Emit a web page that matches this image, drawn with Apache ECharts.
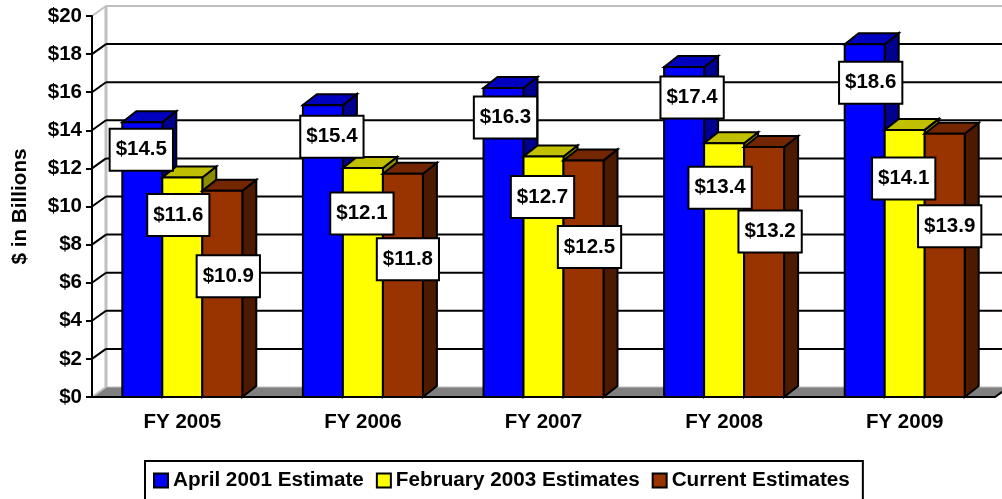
<!DOCTYPE html>
<html>
<head>
<meta charset="UTF-8"/>
<title>Estimates</title>
<style>
html,body{margin:0;padding:0;background:#fff;}
#chart{width:1002px;height:499px;}
</style>
<script src="https://cdn.jsdelivr.net/npm/echarts@6/dist/echarts.min.js"></script>
</head>
<body>
<div id="chart"></div>
<script>
var categories = ['FY 2005', 'FY 2006', 'FY 2007', 'FY 2008', 'FY 2009'];
var april2001 = [14.5, 15.4, 16.3, 17.4, 18.6];
var february2003 = [11.6, 12.1, 12.7, 13.4, 14.1];
var current = [10.9, 11.8, 12.5, 13.2, 13.9];
var yTicks = [0, 2, 4, 6, 8, 10, 12, 14, 16, 18, 20];

// the data labels were dragged by hand in the original, so each has its own nudge in px from the bar top
var labelShift = {
  april: [[-1, 29], [9, 33], [2, 31], [8, 32], [6, 40]],
  february: [[-4, 39], [-1, 47], [-1, 42], [-4, 46], [-1, 50]],
  current: [[6, 87], [5, 87], [6, 88], [6, 86], [5, 94]]
};

var FONT = '"Liberation Sans", Arial, sans-serif';
var DEPTH_X = 14, DEPTH_Y = 11, WALL_Y = 10;
var BAR_RATIO = 40 / 180.6;
var TOP_SINK = 1.5; // bar tops sit a touch under the axis scale in the original

function wallItem(params, api) {
  var v = api.value(1);
  var y = api.coord([0, v])[1];
  var cs = params.coordSys;
  var left = cs.x, right = cs.x + cs.width;
  var kids = [];
  var edge = {stroke: '#c0c0c0', lineWidth: 2, fill: null};
  if (v === 0) {
    kids.push({type: 'polygon', shape: {points: [[left, y], [left + DEPTH_X, y - WALL_Y], [right + DEPTH_X, y - WALL_Y], [right, y]]},
      style: {fill: '#808080'}});
    kids.push({type: 'line', shape: {x1: left + DEPTH_X, y1: y - WALL_Y, x2: right + DEPTH_X, y2: y - WALL_Y}, style: {stroke: '#c0c0c0', lineWidth: 1}});
    kids.push({type: 'line', shape: {x1: left, y1: y, x2: left + DEPTH_X, y2: y - WALL_Y}, style: edge});
    kids.push({type: 'line', shape: {x1: left + DEPTH_X, y1: cs.y - WALL_Y, x2: left + DEPTH_X, y2: y - WALL_Y}, style: {stroke: '#c0c0c0', lineWidth: 3}});
    kids.push({type: 'line', shape: {x1: right, y1: y, x2: right + DEPTH_X, y2: y - WALL_Y}, style: {stroke: '#000', lineWidth: 2}});
  } else if (v === 20) {
    kids.push({type: 'line', shape: {x1: left, y1: y, x2: left + DEPTH_X, y2: y - WALL_Y}, style: edge});
    kids.push({type: 'line', shape: {x1: left + DEPTH_X, y1: y - WALL_Y, x2: right + DEPTH_X, y2: y - WALL_Y}, style: edge});
  } else {
    var line = {stroke: '#000', lineWidth: 2};
    kids.push({type: 'line', shape: {x1: left, y1: y, x2: left + DEPTH_X, y2: y - WALL_Y}, style: line});
    kids.push({type: 'line', shape: {x1: left + DEPTH_X, y1: y - WALL_Y, x2: right + DEPTH_X, y2: y - WALL_Y}, style: line});
  }
  return {type: 'group', children: kids};
}

function barRenderer(slot, colors, shifts) {
  return function (params, api) {
    var idx = api.value(0), val = api.value(1);
    var top = api.coord([idx, val]);
    var base = api.coord([idx, 0]);
    var w = api.size([1, 0])[0] * BAR_RATIO;
    var x0 = top[0] + (slot - 1.5) * w;
    var x1 = x0 + w;
    var y0 = top[1] + TOP_SINK, y1 = base[1];
    var edge = {stroke: '#000', lineWidth: 2, lineJoin: 'miter'};
    var shift = shifts[idx];
    return {type: 'group', children: [
      {type: 'polygon', shape: {points: [[x1, y0], [x1 + DEPTH_X, y0 - DEPTH_Y], [x1 + DEPTH_X, y1 - DEPTH_Y], [x1, y1]]},
        style: Object.assign({fill: colors[2]}, edge)},
      {type: 'polygon', shape: {points: [[x0, y0], [x0 + DEPTH_X, y0 - DEPTH_Y], [x1 + DEPTH_X, y0 - DEPTH_Y], [x1, y0]]},
        style: Object.assign({fill: colors[1]}, edge)},
      {type: 'rect', shape: {x: x0, y: y0, width: w, height: y1 - y0},
        style: Object.assign({fill: colors[0]}, edge)},
      {type: 'text', z2: 50, x: x0 + w / 2 + shift[0], y: top[1] + shift[1],
        style: {text: '$' + val.toFixed(1), font: 'bold 20.5px ' + FONT, fill: '#000', align: 'center', verticalAlign: 'middle',
          backgroundColor: '#fff', borderColor: '#000', borderWidth: 2, padding: [10, 5, 9, 5]}}
    ]};
  };
}

function barSeries(name, values, slot, colors, shifts) {
  return {
    name: name, type: 'custom', z: 2, animation: false, silent: true,
    itemStyle: {color: colors[0]},
    encode: {x: 0, y: 1},
    data: values.map(function (v, i) { return [i, v]; }),
    renderItem: barRenderer(slot, colors, shifts)
  };
}

var chart = echarts.init(document.getElementById('chart'), null, {renderer: 'canvas'});
chart.setOption({
  animation: false,
  backgroundColor: '#fff',
  textStyle: {fontFamily: FONT},
  grid: {left: 92, right: 7, top: 16, bottom: 102, containLabel: false, outerBoundsMode: 'none'},
  xAxis: {
    type: 'category', data: categories, z: 5,
    axisLine: {lineStyle: {color: '#000', width: 2}},
    axisTick: {length: 7, lineStyle: {color: '#000', width: 2}},
    axisLabel: {color: '#000', fontFamily: FONT, fontWeight: 'bold', fontSize: 20.5, margin: 15}
  },
  yAxis: {
    type: 'value', min: 0, max: 20, interval: 2, z: 5,
    name: '$ in Billions', nameLocation: 'middle', nameGap: 61, nameRotate: 90,
    nameTextStyle: {color: '#000', fontFamily: FONT, fontWeight: 'bold', fontSize: 20.7},
    axisLine: {show: true, lineStyle: {color: '#000', width: 2}},
    axisTick: {show: true, length: 6, lineStyle: {color: '#000', width: 2}},
    splitLine: {show: false},
    axisLabel: {color: '#000', fontFamily: FONT, fontWeight: 'bold', fontSize: 20.5, margin: 10,
      formatter: function (v) { return '$' + v; }}
  },
  legend: {
    left: 145, top: 461,
    data: ['April 2001 Estimate', 'February 2003 Estimates', 'Current Estimates'],
    orient: 'horizontal',
    icon: 'rect', itemWidth: 14, itemHeight: 14, itemGap: 12,
    borderColor: '#000', borderWidth: 2, padding: [9, 13, 30, 8],
    backgroundColor: '#fff',
    itemStyle: {borderColor: '#000', borderWidth: 2},
    textStyle: {color: '#000', fontFamily: FONT, fontWeight: 'bold', fontSize: 20.7}
  },
  series: [
    {
      name: 'wall', type: 'custom', z: 1, animation: false, silent: true,
      encode: {x: 0, y: 1},
      data: yTicks.map(function (v) { return [0, v]; }),
      renderItem: wallItem
    },
    barSeries('April 2001 Estimate', april2001, 0, ['#0000ff', '#0000bf', '#000090'], labelShift.april),
    barSeries('February 2003 Estimates', february2003, 1, ['#ffff00', '#c0c000', '#8c8c00'], labelShift.february),
    barSeries('Current Estimates', current, 2, ['#993300', '#732600', '#4d1a00'], labelShift.current)
  ]
});
</script>
</body>
</html>
